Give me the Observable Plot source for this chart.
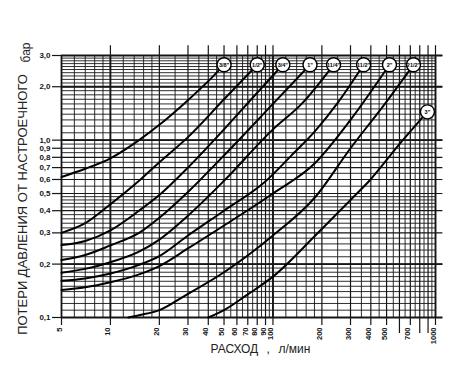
<!DOCTYPE html>
<html>
<head>
<meta charset="utf-8">
<script src="https://cdn.jsdelivr.net/npm/d3@7"></script>
<script src="https://cdn.jsdelivr.net/npm/@observablehq/plot@0.6"></script>
<style>
  html, body { margin: 0; padding: 0; background: #fff; }
  svg { display: block; }
</style>
</head>
<body>
<script>
// ---- Data (flow Q, l/min ; pressure loss, bar) ----
const sizes = ['3/8"', '1/2"', '3/4"', '1"', '11/4"', '11/2"', '2"', '21/2"', '3"'];

const q_38 = [5, 7, 10, 15, 20, 30, 40, 50];
const dp_38 = [0.62, 0.69, 0.79, 1.0, 1.22, 1.68, 2.15, 2.66];

const q_12 = [5, 7, 10, 15, 20, 30, 50, 80];
const dp_12 = [0.30, 0.34, 0.435, 0.59, 0.75, 1.04, 1.7, 2.66];

const q_34 = [5, 7, 10, 15, 20, 30, 50, 80, 115];
const dp_34 = [0.256, 0.27, 0.31, 0.40, 0.49, 0.70, 1.15, 1.85, 2.66];

const q_1 = [5, 7, 10, 15, 20, 30, 50, 100, 169];
const dp_1 = [0.211, 0.225, 0.255, 0.30, 0.365, 0.51, 0.82, 1.6, 2.66];

const q_114 = [5, 7, 10, 15, 20, 30, 50, 100, 150, 236];
const dp_114 = [0.179, 0.188, 0.205, 0.235, 0.275, 0.375, 0.59, 1.15, 1.6, 2.66];

const q_112 = [5, 7, 10, 15, 20, 30, 50, 89, 130, 181, 250, 361];
const dp_112 = [0.161, 0.166, 0.177, 0.198, 0.222, 0.29, 0.40, 0.58, 0.82, 1.12, 1.62, 2.66];

const q_2 = [5, 7, 10, 15, 20, 30, 50, 100, 181, 300, 521];
const dp_2 = [0.143, 0.148, 0.158, 0.175, 0.195, 0.245, 0.33, 0.50, 0.74, 1.3, 2.66];

const q_212 = [12.9, 15, 20, 28.8, 50, 100, 181, 300, 500, 732];
const dp_212 = [0.1, 0.103, 0.11, 0.133, 0.18, 0.29, 0.475, 0.9, 1.65, 2.66];

const q_3 = [40, 50, 70, 100, 181, 300, 392, 600, 892];
const dp_3 = [0.1, 0.11, 0.135, 0.17, 0.288, 0.46, 0.59, 0.95, 1.444];

// label bubble positions (end of each curve)
const labelQ = [50, 80, 115, 169, 236, 361, 521, 732, 892];
const labelDp = [2.66, 2.66, 2.66, 2.66, 2.66, 2.66, 2.66, 2.66, 1.444];

// ---- Ticks / grid ----
const xLabelTicks = [5, 10, 20, 30, 40, 50, 60, 70, 80, 90, 100, 200, 300, 400, 500, 700, 1000];
const xBareTicks = [600, 800, 900];
const xMajorGrid = [10, 20, 30, 40, 50, 60, 70, 80, 90, 100, 200, 300, 400, 500, 600, 700, 800, 900, 1000];
const xDecadeGrid = [5, 10, 100, 1000];
const xMinorGrid = [6, 7, 8, 9,
  12, 14, 16, 18, 25, 35, 45, 55, 65, 75, 85, 95,
  120, 140, 160, 180, 250, 350, 450, 550, 650, 750, 850, 950];

const yLabelTicks = [0.1, 0.2, 0.3, 0.4, 0.5, 0.6, 0.7, 0.8, 0.9, 1.0, 2.0, 3.0];
const yThickGrid = [0.1, 0.2, 1.0, 2.0, 3.0];
const yMinorGrid = [0.11, 0.12, 0.13, 0.14, 0.15, 0.16, 0.17, 0.18, 0.19,
  0.22, 0.24, 0.26, 0.28, 0.32, 0.34, 0.36, 0.38, 0.42, 0.44, 0.46, 0.48,
  0.55, 0.65, 0.75, 0.85, 0.95,
  1.1, 1.2, 1.3, 1.4, 1.5, 1.6, 1.7, 1.8, 1.9,
  2.1, 2.2, 2.3, 2.4, 2.5, 2.6, 2.7, 2.8, 2.9];

const xTitle = "РАСХОД";
const xUnit = "л/мин";
const yTitle = "ПОТЕРИ ДАВЛЕНИЯ ОТ НАСТРОЕЧНОГО";
const yUnit = "бар";

// ---- Build table ----
const qs = [q_38, q_12, q_34, q_1, q_114, q_112, q_2, q_212, q_3];
const dps = [dp_38, dp_12, dp_34, dp_1, dp_114, dp_112, dp_2, dp_212, dp_3];
const rows = [];
sizes.forEach((s, i) => qs[i].forEach((q, j) => rows.push({size: s, q, dp: dps[i][j]})));
const labels = sizes.map((s, i) => ({size: s, q: labelQ[i], dp: labelDp[i]}));

const ink = "#161616";
const fmtY = d => d.toFixed(1).replace(".", ",");

const chart = Plot.plot({
  width: 460,
  height: 371,
  marginLeft: 61,
  marginRight: 25,
  marginTop: 55,
  marginBottom: 54,
  x: {type: "log", domain: [5, 1000]},
  y: {type: "log", domain: [0.1, 3]},
  style: {background: "#fff", fontFamily: "'Liberation Sans', Arial, sans-serif", color: ink},
  marks: [
    // grid
    Plot.ruleX(xMinorGrid, {y1: 0.1, y2: 3, stroke: ink, strokeWidth: 0.9}),
    Plot.ruleX(xMajorGrid, {y1: 0.1, y2: 3.4, stroke: ink, strokeWidth: 1.2}),
    Plot.ruleX(xDecadeGrid, {y1: 0.1, y2: 3, stroke: ink, strokeWidth: 1.8}),
    Plot.ruleY(yMinorGrid, {x1: 5, x2: 1000, stroke: ink, strokeWidth: 0.9}),
    Plot.ruleY(yLabelTicks, {x1: 5, x2: 1110, stroke: ink, strokeWidth: 1.2}),
    Plot.ruleY(yThickGrid, {x1: 5, x2: 1110, stroke: ink, strokeWidth: 1.8}),
    // axis ticks
    Plot.axisY(yLabelTicks, {tickSize: 9, tickFormat: () => "", label: null, stroke: ink, strokeWidth: 1.2}),
    Plot.axisX(xLabelTicks, {tickSize: 8, tickFormat: () => "", label: null, stroke: ink, strokeWidth: 1.2}),
    Plot.axisX(xBareTicks, {tickSize: 16, tickFormat: () => "", label: null, stroke: ink, strokeWidth: 1.2}),
    // tick labels
    Plot.text(yLabelTicks, {y: d => d, text: fmtY, frameAnchor: "left", textAnchor: "end", dx: -11, fontSize: 8, fontWeight: "bold", fill: ink}),
    Plot.text(xLabelTicks, {x: d => d, text: d => String(d), frameAnchor: "bottom", rotate: -90, textAnchor: "end", dy: 10, fontSize: 7.5, fontWeight: "bold", fill: ink}),
    // curves
    Plot.line(rows, {x: "q", y: "dp", z: "size", stroke: "#000", strokeWidth: 2, curve: "monotone-x"}),
    // bubbles
    Plot.dot(labels, {x: "q", y: "dp", r: 7, fill: "#fff", stroke: "#000", strokeWidth: 1.4}),
    Plot.text(labels, {x: "q", y: "dp", text: "size", fontSize: 5.5, fontWeight: "bold", fill: "#000"}),
    // titles
    Plot.text([yTitle], {text: d => d, frameAnchor: "left", textAnchor: "middle", rotate: -90, dx: -39, dy: 18, fontSize: 13, fill: "#222"}),
    Plot.text([yUnit], {text: d => d, frameAnchor: "top-left", textAnchor: "middle", rotate: -90, dx: -40, dy: -3, fontSize: 12, fill: "#222"}),
    Plot.text([xTitle], {text: d => d, frameAnchor: "bottom-left", textAnchor: "start", dx: 149, dy: 35, fontSize: 12, fill: "#222"}),
    Plot.text([","], {text: d => d, frameAnchor: "bottom-left", textAnchor: "start", dx: 205, dy: 35, fontSize: 12, fill: "#222"}),
    Plot.text([xUnit], {text: d => d, frameAnchor: "bottom-left", textAnchor: "start", dx: 217, dy: 35, fontSize: 12, fill: "#222"})
  ]
});
document.body.appendChild(chart);
</script>
</body>
</html>
